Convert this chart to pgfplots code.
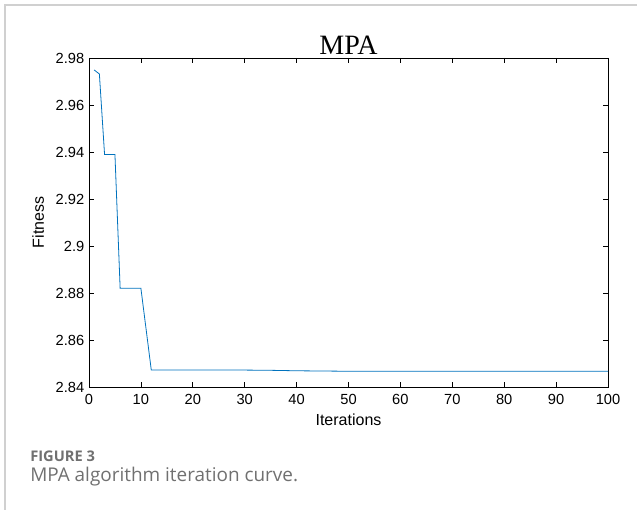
\documentclass[border=0pt]{standalone}
\usepackage{pgfplots}
\pgfplotsset{compat=1.18}
\usepackage{fontspec}
\setmainfont{Liberation Sans}
\newfontfamily\titlefont{Liberation Serif}
\newfontfamily\capfont{Open Sans}
\definecolor{mblue}{rgb}{0,0.447,0.741}
\definecolor{capgray}{HTML}{707070}
\definecolor{framegray}{HTML}{D0D0D0}
\begin{document}
\begin{tikzpicture}[x=0.75pt,y=0.75pt]
\useasboundingbox (0,0) rectangle (639,510);
\draw[framegray,line width=1.5pt] (5,0) -- (5,505) -- (637,505);
\begin{axis}[
  at={(89*0.75pt,123*0.75pt)}, anchor=south west,
  scale only axis, width=389.25pt, height=246.75pt,
  xmin=0, xmax=100, ymin=2.84, ymax=2.98,
  xtick={0,10,...,100},
  ytick={2.84,2.86,2.88,2.9,2.92,2.94,2.96,2.98},
  yticklabel style={/pgf/number format/fixed,/pgf/number format/precision=2},
  /pgf/number format/assume math mode=true,
  tick align=inside, major tick length=4pt,
  axis line style={line width=0.6pt},
  tick style={line width=0.5pt,black},
  ticklabel style={font=\fontsize{11}{13}\selectfont},
  xticklabel style={yshift=-2pt},
  xlabel={Iterations}, ylabel={Fitness},
  label style={font=\fontsize{12}{14}\selectfont},
  xlabel style={yshift=0pt}, ylabel style={yshift=2pt},
  title={\titlefont\fontsize{21}{24}\selectfont MPA},
  title style={yshift=-7pt},
]
\addplot[mblue, line width=0.6pt] coordinates {
(1,2.9749)(2,2.9732)(3,2.9389)(4,2.9389)(5,2.9389)(6,2.8820)(7,2.8820)(8,2.8820)(9,2.8820)(10,2.8820)
(11,2.8646)(12,2.8472)(20,2.8472)(30,2.8472)(35,2.8471)(40,2.8469)(45,2.8468)(50,2.8467)(60,2.8467)(70,2.8467)(80,2.8467)(90,2.8467)(100,2.8467)
};
\end{axis}
\node[anchor=base west, inner sep=0, text=capgray, font=\capfont\fontsize{11}{13}\selectfont\bfseries] at (30,510-462) {FIGURE 3};
\node[anchor=base west, inner sep=0, text=capgray, font=\capfont\fontsize{14.2}{16}\selectfont] at (30,510-482) {MPA algorithm iteration curve.};
\end{tikzpicture}
\end{document}
